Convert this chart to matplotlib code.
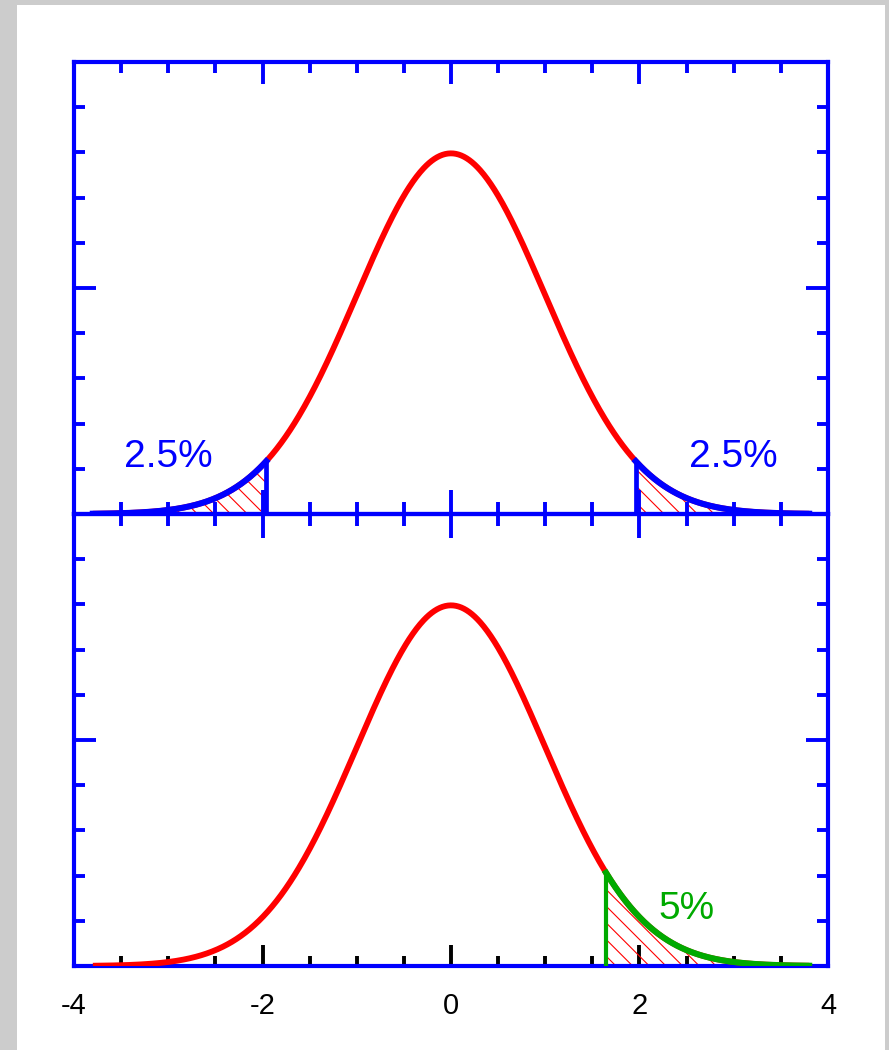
import numpy as np
import matplotlib
matplotlib.use("Agg")
import matplotlib.pyplot as plt
from matplotlib.patches import Rectangle
from matplotlib.ticker import MultipleLocator, FixedLocator

plt.rcParams['font.family'] = ['Liberation Sans', 'DejaVu Sans']
plt.rcParams['hatch.linewidth'] = 0.8

# Standard normal curve and the critical values of the two tests
x_range = (-3.8, 3.8)
two_tail_crit = 1.96
one_tail_crit = 1.645
two_tail_labels = ["2.5%", "2.5%"]
two_tail_label_x = [-3.0, 3.0]
one_tail_label = "5%"
one_tail_label_x = 2.5
label_y = 0.063
x_ticks = [-4, -2, 0, 2, 4]
x_tick_labels = ["-4", "-2", "0", "2", "4"]

BLUE = "#0000ff"
RED = "#ff0000"
GREEN = "#00aa00"


def pdf(v):
    return np.exp(-0.5 * v ** 2) / np.sqrt(2 * np.pi)


W, H = 889, 1050
fig = plt.figure(figsize=(W / 100, H / 100), dpi=100, facecolor="#cccccc")
fig.patches.append(Rectangle((17 / W, 0), (885 - 17) / W, (H - 5) / H,
                             transform=fig.transFigure, facecolor="white",
                             edgecolor="none", zorder=-10))

left, right = 74 / W, 828 / W
top_y, mid_y, bot_y = 1 - 62 / H, 1 - 514 / H, 1 - 966 / H
ax1 = fig.add_axes([left, mid_y, right - left, top_y - mid_y])
ax2 = fig.add_axes([left, bot_y, right - left, mid_y - bot_y])

xs = np.linspace(x_range[0], x_range[1], 800)

for ax in (ax1, ax2):
    ax.set_xlim(-4, 4)
    ax.set_ylim(0, 0.5)
    ax.patch.set_alpha(0)
    for sp in ax.spines.values():
        sp.set_color(BLUE)
        sp.set_linewidth(3)
    ax.yaxis.set_major_locator(FixedLocator([0, 0.25, 0.5]))
    ax.yaxis.set_minor_locator(MultipleLocator(0.05))
    ax.tick_params(axis='y', which='both', direction='in', left=True, right=True,
                   labelleft=False, color=BLUE, width=2.8)
    ax.tick_params(axis='y', which='major', length=16)
    ax.tick_params(axis='y', which='minor', length=8)
    ax.xaxis.set_major_locator(FixedLocator(x_ticks))
    ax.xaxis.set_minor_locator(MultipleLocator(0.5))
    ax.plot(xs, pdf(xs), color=RED, lw=4.2, solid_capstyle='butt', zorder=3)

# Upper panel: two-tailed rejection regions
ax1.tick_params(axis='x', which='both', top=True, bottom=False, labelbottom=False,
                direction='in', color=BLUE, width=2.8)
ax1.tick_params(axis='x', which='major', length=16)
ax1.tick_params(axis='x', which='minor', length=8)
# ticks crossing the shared middle line
for v in np.arange(-3.5, 4.0, 0.5):
    major = v in (-2, 0, 2)
    h = 0.027 if major else 0.0135
    ax1.plot([v, v], [0, h], color=BLUE, lw=2.8, solid_capstyle='butt',
             zorder=4, clip_on=False)
    ax2.plot([v, v], [0.5, 0.5 - h], color=BLUE, lw=2.8, solid_capstyle='butt',
             zorder=4, clip_on=False)

for sign in (-1, 1):
    if sign < 0:
        tx = np.linspace(x_range[0], -two_tail_crit, 300)
    else:
        tx = np.linspace(two_tail_crit, x_range[1], 300)
    ax1.fill_between(tx, 0, pdf(tx), facecolor="none", edgecolor=RED,
                     hatch="\\\\", linewidth=0, zorder=2)
    ax1.plot(tx, pdf(tx), color=BLUE, lw=4.4, zorder=4)
    ax1.plot([sign * two_tail_crit] * 2, [0, pdf(two_tail_crit)], color=BLUE,
             lw=3.4, solid_capstyle='butt', zorder=4)

for lab, lx in zip(two_tail_labels, two_tail_label_x):
    ax1.text(lx, label_y, lab, color=BLUE, fontsize=28, ha='center', va='center')

# Lower panel: one-tailed rejection region
ax2.tick_params(axis='x', which='both', direction='in', top=False, bottom=True,
                color='black', width=2.8, labelcolor='black', pad=19)
ax2.tick_params(axis='x', which='major', length=15)
ax2.tick_params(axis='x', which='minor', length=7.5)
ax2.set_xticklabels(x_tick_labels, fontsize=21)
for t in (ax2.xaxis.get_major_ticks()[0], ax2.xaxis.get_major_ticks()[-1]):
    t.tick1line.set_visible(False)

ox = np.linspace(one_tail_crit, x_range[1], 300)
ax2.fill_between(ox, 0, pdf(ox), facecolor="none", edgecolor=RED,
                 hatch="\\\\", linewidth=0, zorder=2)
ax2.plot(ox, pdf(ox), color=GREEN, lw=4.4, zorder=4)
ax2.plot([one_tail_crit] * 2, [0, pdf(one_tail_crit)], color=GREEN, lw=3.0,
         solid_capstyle='butt', zorder=4)
ax2.text(one_tail_label_x, label_y, one_tail_label, color=GREEN, fontsize=28,
         ha='center', va='center')

fig.savefig("out.png", dpi=100, facecolor=fig.get_facecolor())
